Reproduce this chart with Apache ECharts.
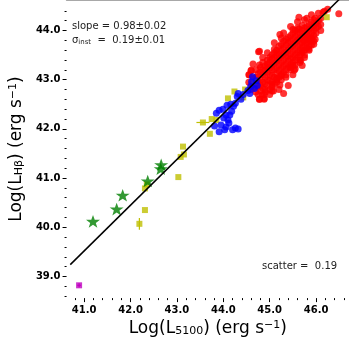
<!DOCTYPE html>
<html>
<head>
<meta charset="utf-8">
<script src="https://cdn.jsdelivr.net/npm/echarts@6/dist/echarts.min.js"></script>
<style>
html, body { margin: 0; padding: 0; background: #fff; }
#chart { width: 349px; height: 342px; }
</style>
</head>
<body>
<div id="chart"></div>
<script>
// ---- data ----
const redPoints = [
  [44.55, 43.10], [44.55, 42.95],
  [44.60, 43.18], [44.60, 42.90], [44.60, 42.80],
  [44.65, 43.02], [44.65, 42.85], [44.65, 42.95],
  [44.70, 43.05], [44.70, 42.75], [44.70, 42.92], [44.70, 43.20],
  [44.75, 43.12], [44.75, 42.98], [44.75, 42.70], [44.75, 42.85],
  [44.78, 42.60], [44.78, 43.30],
  [44.80, 43.00], [44.80, 43.15], [44.80, 42.88], [44.80, 42.78], [44.80, 43.25],
  [44.85, 43.10], [44.85, 42.95], [44.85, 43.20], [44.85, 42.82], [44.85, 43.35],
  [44.88, 42.60], [44.88, 42.70],
  [44.90, 43.05], [44.90, 43.18], [44.90, 42.92], [44.90, 43.28], [44.90, 42.80],
  [44.95, 43.15], [44.95, 43.00], [44.95, 43.25], [44.95, 43.40], [44.95, 42.88], [44.95, 43.32],
  [45.00, 43.24], [45.00, 43.10], [45.00, 43.35], [45.00, 42.98], [45.00, 43.45], [45.00, 42.80], [45.00, 42.70],
  [45.05, 43.20], [45.05, 43.30], [45.05, 43.08], [45.05, 43.42], [45.05, 42.95], [45.05, 43.50],
  [45.10, 43.33], [45.10, 43.20], [45.10, 43.45], [45.10, 43.05], [45.10, 43.55], [45.10, 42.90], [45.10, 43.62],
  [45.15, 43.38], [45.15, 43.25], [45.15, 43.50], [45.15, 43.12], [45.15, 43.60], [45.15, 43.00],
  [45.20, 43.43], [45.20, 43.30], [45.20, 43.55], [45.20, 43.18], [45.20, 43.68], [45.20, 43.05], [45.20, 42.80],
  [45.25, 43.48], [45.25, 43.35], [45.25, 43.60], [45.25, 43.22], [45.25, 43.72], [45.25, 43.10], [45.25, 43.85],
  [45.30, 43.52], [45.30, 43.40], [45.30, 43.65], [45.30, 43.28], [45.30, 43.78], [45.30, 43.15], [45.30, 42.72],
  [45.35, 43.56], [45.35, 43.45], [45.35, 43.70], [45.35, 43.32], [45.35, 43.82], [45.35, 43.20],
  [45.40, 43.61], [45.40, 43.48], [45.40, 43.75], [45.40, 43.38], [45.40, 43.86], [45.40, 43.25], [45.40, 42.88],
  [45.45, 43.66], [45.45, 43.52], [45.45, 43.78], [45.45, 43.42], [45.45, 43.90], [45.45, 43.30],
  [45.50, 43.70], [45.50, 43.58], [45.50, 43.82], [45.50, 43.45], [45.50, 43.95], [45.50, 43.35], [45.50, 43.10],
  [45.55, 43.75], [45.55, 43.62], [45.55, 43.88], [45.55, 43.50], [45.55, 44.00], [45.55, 43.40],
  [45.60, 43.80], [45.60, 43.68], [45.60, 43.92], [45.60, 43.55], [45.60, 43.45], [45.60, 44.05],
  [45.65, 43.84], [45.65, 43.72], [45.65, 43.96], [45.65, 43.60], [45.65, 43.50],
  [45.70, 43.88], [45.70, 43.76], [45.70, 44.00], [45.70, 43.65], [45.70, 43.55], [45.70, 44.10],
  [45.75, 43.93], [45.75, 43.80], [45.75, 44.05], [45.75, 43.70], [45.75, 43.60],
  [45.80, 43.98], [45.80, 43.85], [45.80, 44.08], [45.80, 43.75], [45.80, 43.65],
  [45.85, 44.02], [45.85, 43.90], [45.85, 44.12], [45.85, 43.80],
  [45.90, 44.05], [45.90, 43.95], [45.90, 44.18], [45.90, 43.85], [45.90, 43.70],
  [45.95, 44.10], [45.95, 44.00], [45.95, 43.90], [45.95, 44.22],
  [46.00, 44.15], [46.00, 44.05], [46.00, 43.95],
  [46.05, 44.20], [46.05, 44.08],
  [46.10, 44.25], [46.10, 44.12], [46.10, 44.00],
  // spread below the fit line
  [45.05, 42.90], [45.05, 42.85], [45.15, 42.95], [45.15, 43.02], [45.25, 43.00], [45.25, 43.08],
  [45.35, 43.10], [45.35, 43.05], [45.45, 43.20], [45.45, 43.25], [45.55, 43.30], [45.55, 43.22],
  [45.65, 43.40], [45.65, 43.35], [45.75, 43.50], [45.75, 43.45], [45.85, 43.60], [45.85, 43.68],
  [45.95, 43.72], [45.95, 43.78],
  // spread above the fit line
  [44.85, 43.45], [44.95, 43.55], [45.10, 43.75], [45.30, 43.95], [45.45, 44.08], [45.60, 44.18],
  [45.75, 44.22], [45.90, 44.32], [46.05, 44.35],
  // outliers
  [45.63, 44.27], [45.80, 44.25], [45.98, 44.25], [46.15, 44.37], [46.25, 44.43], [46.49, 44.34],
  [45.22, 43.92], [45.50, 44.02], [45.63, 44.03], [45.80, 43.92], [45.74, 43.79], [45.84, 43.62],
  [44.76, 43.57], [45.98, 43.82], [45.67, 43.39], [45.50, 43.29], [45.22, 42.89], [45.05, 42.77],
  [44.88, 42.62], [44.84, 42.69], [45.70, 43.59], [45.87, 43.79], [44.64, 43.32], [44.60, 43.19],
  [44.56, 43.10], [44.91, 42.75], [45.08, 42.77], [45.53, 43.19], [45.70, 43.29], [45.91, 43.82],
  [44.78, 42.60], [46.18, 44.39], [44.78, 43.58]
];

const bluePoints = [
  [43.91, 42.38], [43.99, 42.40], [44.08, 42.48], [44.16, 42.50], [44.22, 42.46],
  [44.06, 42.28], [44.01, 42.22], [44.10, 42.18], [44.12, 42.12], [43.95, 42.08],
  [43.81, 42.06], [43.91, 41.94], [44.06, 42.04], [44.20, 41.98], [44.26, 42.02],
  [44.32, 42.00], [44.26, 42.52], [44.30, 42.66], [44.32, 42.72], [44.53, 42.78],
  [44.61, 42.96], [44.71, 42.98], [44.57, 42.72], [44.67, 42.82], [44.73, 42.88],
  [44.59, 42.86], [44.63, 43.06], [44.43, 42.70], [44.38, 42.60], [43.85, 42.32],
  [44.14, 42.28], [44.18, 42.36], [44.03, 41.98]
];

// [x, y, xErr, yErr]
const yellowPoints = [
  [42.19, 40.07, 0, 0.12], [42.31, 40.35, 0, 0], [42.31, 40.79, 0, 0], [42.35, 40.87, 0, 0],
  [43.03, 41.02, 0, 0], [43.08, 41.43, 0, 0], [43.13, 41.64, 0, 0], [43.15, 41.48, 0, 0],
  [43.56, 42.13, 0.14, 0], [43.75, 42.20, 0, 0], [43.71, 41.90, 0, 0], [43.85, 42.18, 0, 0],
  [44.10, 42.62, 0, 0], [44.24, 42.76, 0, 0], [44.43, 42.64, 0, 0], [44.47, 42.80, 0, 0],
  [44.67, 42.96, 0, 0], [46.23, 44.27, 0, 0]
];

const greenStars = [
  [41.19, 40.12], [41.70, 40.37], [41.83, 40.65], [42.37, 40.94], [42.66, 41.27], [42.65, 41.19]
];

const magentaPoints = [[40.89, 38.82, 0.04, 0.04]];

const fitLine = [[40.70, 39.24], [46.70, 44.82]];

const xMajorTicks = [41, 42, 43, 44, 45, 46];
const xMinorTicks = [40.8, 41.2, 41.4, 41.6, 41.8, 42.2, 42.4, 42.6, 42.8, 43.2, 43.4, 43.6, 43.8,
  44.2, 44.4, 44.6, 44.8, 45.2, 45.4, 45.6, 45.8, 46.2, 46.4, 46.6];
const yMajorTicks = [39, 40, 41, 42, 43, 44];
const yMinorTicks = [38.6, 38.8, 39.2, 39.4, 39.6, 39.8, 40.2, 40.4, 40.6, 40.8, 41.2, 41.4, 41.6, 41.8,
  42.2, 42.4, 42.6, 42.8, 43.2, 43.4, 43.6, 43.8, 44.2, 44.4];

const xRange = [40.62, 46.71];
const yRange = [38.56, 44.62];

// ---- chart ----
const chart = echarts.init(document.getElementById('chart'));

const font = 'DejaVu Sans';
const starPath = 'path://M0,-10 L2.35,-3.24 L9.51,-3.09 L3.8,1.24 L5.88,8.09 L0,4 L-5.88,8.09 L-3.8,1.24 L-9.51,-3.09 L-2.35,-3.24 Z';

function renderErr(params, api) {
  const x = api.value(0), y = api.value(1), xe = api.value(2), ye = api.value(3);
  const color = api.visual('color');
  const children = [];
  if (xe > 0) {
    const a = api.coord([x - xe, y]), b = api.coord([x + xe, y]);
    children.push({ type: 'line', shape: { x1: a[0], y1: a[1], x2: b[0], y2: b[1] }, style: { stroke: color, lineWidth: 1.2 } });
  }
  if (ye > 0) {
    const a = api.coord([x, y - ye]), b = api.coord([x, y + ye]);
    children.push({ type: 'line', shape: { x1: a[0], y1: a[1], x2: b[0], y2: b[1] }, style: { stroke: color, lineWidth: 1.2 } });
  }
  return { type: 'group', children };
}

const labelStyle = { color: '#000', fontFamily: font, fontWeight: 'bold', fontSize: 10 };
const nameRich = {
  sub: { fontFamily: font, fontSize: 11, color: '#000', verticalAlign: 'bottom', padding: [6, 0, 0, 0] },
  sup: { fontFamily: font, fontSize: 11, color: '#000', verticalAlign: 'top', padding: [0, 0, 6, 0] }
};

const option = {
  animation: false,
  backgroundColor: '#fff',
  grid: { left: 53, right: 0, top: 0, bottom: 39, containLabel: false },
  xAxis: [
    {
      type: 'value', min: xRange[0], max: xRange[1], position: 'bottom',
      axisLine: { show: false },
      axisTick: { show: true, length: 4, customValues: xMajorTicks, lineStyle: { color: '#000' } },
      axisLabel: { show: true, customValues: xMajorTicks, margin: 7, formatter: v => v.toFixed(1), ...labelStyle },
      splitLine: { show: false },
      name: 'Log(L{sub|5100}) (erg s{sup|−1})',
      nameLocation: 'middle', nameGap: 18,
      nameTextStyle: { fontFamily: font, fontSize: 17, color: '#000', rich: nameRich }
    },
    {
      type: 'value', min: xRange[0], max: xRange[1], position: 'bottom',
      axisLine: { show: false },
      axisTick: { show: true, length: 2, customValues: xMinorTicks, lineStyle: { color: '#000' } },
      axisLabel: { show: false }, splitLine: { show: false }
    },
    {
      type: 'value', min: xRange[0], max: xRange[1], position: 'top',
      axisLine: { show: true, lineStyle: { color: '#8c8c8c', width: 1.5 } },
      axisTick: { show: false }, axisLabel: { show: false }, splitLine: { show: false }
    }
  ],
  yAxis: [
    {
      type: 'value', min: yRange[0], max: yRange[1], position: 'left',
      axisLine: { show: false },
      axisTick: { show: true, length: 4, customValues: yMajorTicks, lineStyle: { color: '#000' } },
      axisLabel: { show: true, customValues: yMajorTicks, margin: 6, formatter: v => v.toFixed(1), ...labelStyle },
      splitLine: { show: false },
      name: 'Log(L{sub|Hβ}) (erg s{sup|−1})',
      nameLocation: 'middle', nameGap: 28,
      nameTextStyle: { fontFamily: font, fontSize: 17, color: '#000', rich: nameRich }
    },
    {
      type: 'value', min: yRange[0], max: yRange[1], position: 'left',
      axisLine: { show: false },
      axisTick: { show: true, length: 2, customValues: yMinorTicks, lineStyle: { color: '#000' } },
      axisLabel: { show: false }, splitLine: { show: false }
    }
  ],
  graphic: [
    {
      type: 'text', left: 72, top: 21,
      style: { text: 'slope = 0.98±0.02', fontFamily: font, fontSize: 10, fill: '#222' }
    },
    {
      type: 'text', left: 72, top: 35,
      style: {
        text: 'σ{s|inst}  =  0.19±0.01', fontFamily: font, fontSize: 10, fill: '#222',
        rich: { s: { fontFamily: font, fontSize: 7, fill: '#222', padding: [5, 0, 0, 0] } }
      }
    },
    {
      type: 'text', left: 262, top: 261,
      style: { text: 'scatter =  0.19', fontFamily: font, fontSize: 10, fill: '#222' }
    }
  ],
  series: [
    {
      type: 'scatter', data: redPoints, symbol: 'circle', symbolSize: 7,
      itemStyle: { color: '#ff0000' }, z: 2
    },
    {
      type: 'custom', renderItem: renderErr, data: yellowPoints,
      itemStyle: { color: '#bfbf00' }, z: 3
    },
    {
      type: 'scatter', data: yellowPoints.map(p => [p[0], p[1]]), symbol: 'rect', symbolSize: 6,
      itemStyle: { color: '#bfbf00' }, z: 3
    },
    {
      type: 'scatter', data: bluePoints, symbol: 'circle', symbolSize: 7,
      itemStyle: { color: '#0000ff' }, z: 4
    },
    {
      type: 'custom', renderItem: renderErr, data: magentaPoints,
      itemStyle: { color: '#bf00bf' }, z: 4
    },
    {
      type: 'scatter', data: magentaPoints.map(p => [p[0], p[1]]), symbol: 'rect', symbolSize: 6,
      itemStyle: { color: '#bf00bf' }, z: 4
    },
    {
      type: 'scatter', data: greenStars, symbol: starPath, symbolSize: [14, 13.3], symbolKeepAspect: true,
      itemStyle: { color: '#008000' }, z: 5
    },
    {
      type: 'line', data: fitLine, symbol: 'none', clip: true,
      lineStyle: { color: '#000', width: 1.5 }, z: 6
    }
  ]
};

chart.setOption(option);
window.addEventListener('resize', () => chart.resize());
</script>
</body>
</html>
